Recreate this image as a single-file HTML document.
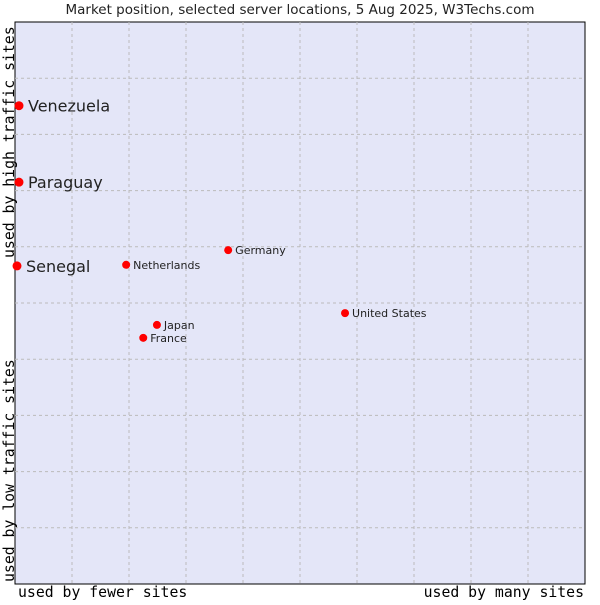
<!DOCTYPE html>
<html><head><meta charset="utf-8"><style>
body{margin:0;background:#fff}
svg text{font-family:"DejaVu Sans","Liberation Sans",sans-serif;fill:#222}
.mono{font-family:"DejaVu Sans Mono","Liberation Mono",monospace;font-size:14.8px;fill:#000}
</style></head><body>
<svg id="c" width="600" height="600">
<text x="300" y="14" text-anchor="middle" font-size="13.5">Market position, selected server locations, 5 Aug 2025, W3Techs.com</text>
<rect x="15" y="22" width="570" height="562" fill="#e4e6f8" stroke="#000" stroke-width="1"/>
<g id="grid"></g>
<g id="pts"></g>
<text class="mono" x="18" y="597">used by fewer sites</text>
<text class="mono" x="584" y="597" text-anchor="end">used by many sites</text>
<text class="mono" transform="translate(14,258) rotate(-90)">used by high traffic sites</text>
<text class="mono" transform="translate(14,582) rotate(-90)">used by low traffic sites</text>
</svg>
<script>
const names=["Venezuela","Paraguay","Senegal","Netherlands","Germany","United States","Japan","France"];
const xVals=[0.7,0.7,0.35,19.5,37.4,57.9,24.9,22.5];
const yVals=[85.1,71.5,56.6,56.8,59.4,48.2,46.1,43.8];
const big=[true,true,true,false,false,false,false,false];
const NS="http://www.w3.org/2000/svg";
const X=v=>15+v/100*570, Y=v=>584-v/100*562;
const g=document.getElementById('grid');
for(let i=1;i<10;i++){
 const l=document.createElementNS(NS,'line');
 
 
 l.setAttribute('x1',X(i*10));l.setAttribute('x2',X(i*10));l.setAttribute('y1',22);l.setAttribute('y2',584);
 l.setAttribute('stroke','#bbb');l.setAttribute('stroke-dasharray','3,3');g.appendChild(l);
 const h=document.createElementNS(NS,'line');
 
 
 h.setAttribute('y1',Y(i*10));h.setAttribute('y2',Y(i*10));h.setAttribute('x1',15);h.setAttribute('x2',585);
 h.setAttribute('stroke','#bbb');h.setAttribute('stroke-dasharray','3,3');g.appendChild(h);
}
const p=document.getElementById('pts');
names.forEach((n,i)=>{
 const cx=X(xVals[i]),cy=Y(yVals[i]);
 const c=document.createElementNS(NS,'circle');
 
 
 c.setAttribute('cx',cx);c.setAttribute('cy',cy);c.setAttribute('r',big[i]?4.5:4);c.setAttribute('fill','#f00');
 p.appendChild(c);
 const t=document.createElementNS(NS,'text');
 
 
 t.setAttribute('x',cx+(big[i]?9:7));t.setAttribute('y',cy+(big[i]?6:4));
 t.setAttribute('font-size',big[i]?16:11);t.textContent=n;p.appendChild(t);
});
</script>
</body></html>
